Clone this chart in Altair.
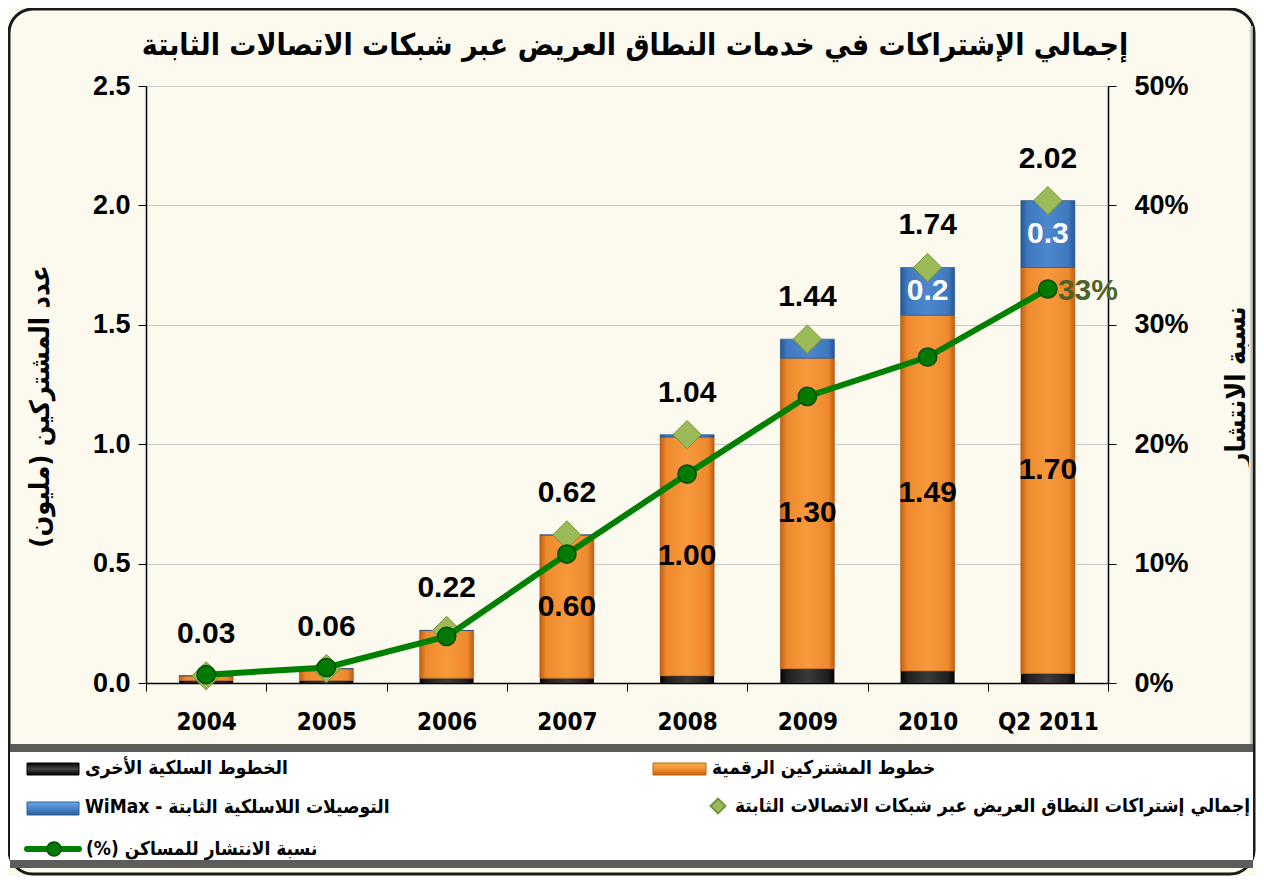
import altair as alt
import pandas as pd

# ---------------- data ----------------
categories = ["2004", "2005", "2006", "2007", "2008", "2009", "2010", "Q2 2011"]
other_wired = [0.01, 0.01, 0.02, 0.02, 0.03, 0.06, 0.05, 0.04]
dsl = [0.02, 0.05, 0.20, 0.60, 1.00, 1.30, 1.49, 1.70]
wimax = [0.0, 0.0, 0.0, 0.0, 0.01, 0.08, 0.20, 0.28]
totals = [0.03, 0.06, 0.22, 0.62, 1.04, 1.44, 1.74, 2.02]
penetration = [0.7, 1.3, 3.9, 10.8, 17.5, 24.0, 27.3, 33.0]
dsl_labels = ["", "", "", "0.60", "1.00", "1.30", "1.49", "1.70"]
wimax_labels = ["", "", "", "", "", "", "0.2", "0.3"]
pen_labels = ["", "", "", "", "", "", "", "33%"]

title_text = "إجمالي الإشتراكات في خدمات النطاق العريض عبر شبكات الاتصالات الثابتة"
y_left_title = "عدد المشتركين (مليون)"
y_right_title = "نسبة الانتشار"
legend_labels = [
    "الخطوط السلكية الأخرى",
    "خطوط المشتركين الرقمية",
    "التوصيلات اللاسلكية الثابتة - WiMax",
    "إجمالي إشتراكات النطاق العريض عبر شبكات الاتصالات الثابتة",
    "نسبة الانتشار للمساكن  (%)",
]
left_ticks = [0, 0.5, 1.0, 1.5, 2.0, 2.5]
right_ticks = [0, 10, 20, 30, 40, 50]


def rtl(s):
    return "\u202B" + s + "\u202C"


df = pd.DataFrame({
    "cat": categories,
    "other": other_wired,
    "dsl": dsl,
    "wimax": wimax,
    "total": totals,
    "pen": penetration,
    "dsl_label": dsl_labels,
    "wimax_label": wimax_labels,
    "pen_label": pen_labels,
})

W, H = 962, 597
NUM_FONT = "Liberation Sans"
NARROW_FONT = "Liberation Sans Narrow, DejaVu Sans Condensed, Liberation Sans"
AR_FONT = "DejaVu Sans Condensed, DejaVu Sans"


def hgrad(edge, mid, hi):
    return alt.Gradient(
        gradient="linear", x1=0, x2=1, y1=0, y2=0,
        stops=[
            alt.GradientStop(offset=0, color=edge),
            alt.GradientStop(offset=0.12, color=mid),
            alt.GradientStop(offset=0.5, color=hi),
            alt.GradientStop(offset=0.88, color=mid),
            alt.GradientStop(offset=1, color=edge),
        ],
    )


orange_g = hgrad("#C25E10", "#EE8A2E", "#F7993C")
blue_g = hgrad("#245795", "#3F78BD", "#4C88CF")
black_g = hgrad("#000000", "#1E1E1E", "#3A3A3A")

base = alt.Chart(df).transform_calculate(
    other_top="datum.other",
    dsl_top="datum.other + datum.dsl",
    wimax_top="datum.other + datum.dsl + datum.wimax",
    dsl_mid="datum.other + datum.dsl / 2",
    wimax_mid="datum.other + datum.dsl + datum.wimax / 2",
)

x_enc = alt.X(
    "cat:N", sort=categories,
    scale=alt.Scale(paddingInner=0, paddingOuter=0),
    axis=alt.Axis(
        title=None, labelAngle=0, tickBand="extent", tickSize=8, tickColor="black",
        domainColor="black", domainWidth=1.5, labelFont=NARROW_FONT, labelFontSize=24,
        labelFontWeight="bold", labelColor="black", labelPadding=19, grid=False,
    ),
)

y_scale = alt.Scale(domain=[0, 2.5], nice=False, zero=True)
y_axis = alt.Axis(
    values=left_ticks, format=".1f", title=rtl(y_left_title), titleAngle=270,
    titleX=-106, titleY=320, titleAlign="center", titleBaseline="middle",
    titleFont=AR_FONT, titleFontSize=27, titleFontWeight="bold", titleColor="black",
    labelFont=NUM_FONT, labelFontSize=27, labelFontWeight="bold", labelColor="black",
    labelPadding=8, tickSize=8, tickColor="black", domainColor="black", domainWidth=1.5,
    grid=True, gridColor="#C9C9C9", gridWidth=1,
)


def yl(field):
    return alt.Y(field, scale=y_scale, axis=y_axis)


black_bar = base.mark_bar(size=54, color=black_g).encode(x=x_enc, y=yl("other_top:Q"))
orange_bar = base.mark_bar(size=54, color=orange_g, stroke="#A8520E", strokeWidth=0.6).encode(
    x=x_enc, y=yl("dsl_top:Q"), y2="other_top:Q"
)
blue_bar = base.mark_bar(size=54, color=blue_g, stroke="#1F4D85", strokeWidth=0.6).encode(
    x=x_enc, y=yl("wimax_top:Q"), y2="dsl_top:Q"
)
diamonds = base.mark_point(shape="diamond", filled=True, size=800, fill="#9BBB59",
                           stroke="#76923C", strokeWidth=1, opacity=1).encode(
    x=x_enc, y=yl("total:Q")
)
total_text = base.mark_text(font=NUM_FONT, fontSize=30, fontWeight="bold", color="black",
                            dy=-42, baseline="middle").encode(
    x=x_enc, y=yl("total:Q"), text=alt.Text("total:Q", format=".2f")
)
dsl_text = base.mark_text(font=NUM_FONT, fontSize=30, fontWeight="bold", color="black",
                          baseline="middle").encode(
    x=x_enc, y=yl("dsl_mid:Q"), text="dsl_label:N"
)
wimax_text = base.mark_text(font=NUM_FONT, fontSize=30, fontWeight="bold", color="white",
                            baseline="middle").encode(
    x=x_enc, y=yl("wimax_mid:Q"), text="wimax_label:N"
)

# ---------- frame, title & legend panel (decoration) ----------
one = pd.DataFrame({"k": [0]})
frame = alt.Chart(one).mark_rect(fill=None, stroke="#1A1A1A", strokeWidth=3, cornerRadius=24).encode(
    x=alt.value(-137), x2=alt.value(1108), y=alt.value(-77), y2=alt.value(788)
)
right_shade = alt.Chart(one).mark_rect(
    color=alt.Gradient(gradient="linear", x1=0, x2=1, y1=0, y2=0,
                       stops=[alt.GradientStop(offset=0, color="#FCFAEE"),
                              alt.GradientStop(offset=1, color="#9A9A9A")])
).encode(x=alt.value(1103), x2=alt.value(1107), y=alt.value(-60), y2=alt.value(775))
title_mark = alt.Chart(pd.DataFrame({"t": [rtl(title_text)]})).mark_text(
    font=AR_FONT, fontSize=30, fontWeight="bold", color="black", align="center", baseline="middle"
).encode(x=alt.value(489), y=alt.value(-40), text="t:N")
legend_bg = alt.Chart(one).mark_rect(fill="white").encode(
    x=alt.value(-136), x2=alt.value(1107), y=alt.value(666), y2=alt.value(774)
)
band_top = alt.Chart(one).mark_rect(fill="#5C5C5C").encode(
    x=alt.value(-136), x2=alt.value(1107), y=alt.value(658), y2=alt.value(666)
)
band_bot = alt.Chart(one).mark_rect(fill="#5C5C5C").encode(
    x=alt.value(-136), x2=alt.value(1107), y=alt.value(774), y2=alt.value(782)
)


def swatch(x1, x2, y1, y2, grad, stroke):
    return alt.Chart(one).mark_rect(color=grad, stroke=stroke, strokeWidth=1).encode(
        x=alt.value(x1), x2=alt.value(x2), y=alt.value(y1), y2=alt.value(y2)
    )


def legend_text(i, x, y):
    d = pd.DataFrame({"label": [rtl(legend_labels[i])]})
    return alt.Chart(d).mark_text(font=AR_FONT, fontSize=19, fontWeight="bold", color="black",
                                  align="left", baseline="middle").encode(
        x=alt.value(x), y=alt.value(y), text="label:N"
    )


def vgrad(a, b, c):
    return alt.Gradient(gradient="linear", x1=0, x2=0, y1=0, y2=1,
                        stops=[alt.GradientStop(offset=0, color=a),
                               alt.GradientStop(offset=0.5, color=b),
                               alt.GradientStop(offset=1, color=c)])


lg_black = swatch(-119, -67, 677, 689, vgrad("#000000", "#454545", "#000000"), "#000000")
lg_orange = swatch(507, 560, 677, 689, vgrad("#F7B24A", "#F09030", "#C8600E"), "#B8600F")
lg_blue = swatch(-119, -67, 716, 729, vgrad("#6CA6E6", "#4A86CE", "#2B5E9C"), "#2B5E9C")
lg_diamond = alt.Chart(one).mark_point(shape="diamond", filled=True, size=220, fill="#9BBB59",
                                       stroke="#76923C", opacity=1).encode(
    x=alt.value(572), y=alt.value(720)
)
lg_line = alt.Chart(one).mark_rule(color="#008000", strokeWidth=6, strokeCap="round").encode(
    x=alt.value(-119), x2=alt.value(-67), y=alt.value(763)
)
lg_circle = alt.Chart(one).mark_point(shape="circle", filled=True, size=200, fill="#007A00",
                                      stroke="#004D00", strokeWidth=1.5, opacity=1).encode(
    x=alt.value(-92), y=alt.value(763)
)
lt = [
    legend_text(0, -61, 682),
    legend_text(1, 566, 682),
    legend_text(2, -61, 721),
    legend_text(3, 589, 720),
    legend_text(4, -60, 763),
]

left_group = alt.layer(
    frame, right_shade, title_mark, legend_bg, band_top, band_bot,
    lg_black, lg_orange, lg_blue, lg_diamond, lg_line, lg_circle, *lt,
    black_bar, orange_bar, blue_bar, diamonds, total_text, dsl_text, wimax_text,
)

# ---------- right axis: penetration ----------
y2_scale = alt.Scale(domain=[0, 50], nice=False, zero=True)
y2_axis = alt.Axis(
    orient="right", values=right_ticks, labelExpr="datum.value + '%'",
    title=rtl(y_right_title), titleAngle=270, titleX=128, titleY=300,
    titleAlign="center", titleBaseline="middle",
    titleFont=AR_FONT, titleFontSize=27, titleFontWeight="bold", titleColor="black",
    labelFont=NUM_FONT, labelFontSize=27, labelFontWeight="bold", labelColor="black",
    labelPadding=18, tickSize=8, tickColor="black", domainColor="black", domainWidth=1.5,
    grid=False,
)


def yr():
    return alt.Y("pen:Q", scale=y2_scale, axis=y2_axis)


pen_line = alt.Chart(df).mark_line(color="#008000", strokeWidth=6).encode(x=x_enc, y=yr())
pen_pts = alt.Chart(df).mark_point(shape="circle", filled=True, size=330, fill="#007A00",
                                   stroke="#004D00", strokeWidth=1.5, opacity=1).encode(
    x=x_enc, y=yr()
)
pen_text = alt.Chart(df).mark_text(font=NUM_FONT, fontSize=30, fontWeight="bold", color="#4F6228",
                                   align="left", baseline="middle", dx=10, dy=2).encode(
    x=x_enc, y=yr(), text="pen_label:N"
)
right_group = alt.layer(pen_line, pen_pts, pen_text)

chart = alt.layer(left_group, right_group).resolve_scale(y="independent").properties(
    width=W, height=H,
    autosize=alt.AutoSizeParams(type="none"),
    padding={"left": 138, "top": 78, "right": 148, "bottom": 193},
    background="#FCFAEE",
).configure_view(strokeWidth=0)

chart.save("out.html", embed_options={"renderer": "svg", "actions": False})
